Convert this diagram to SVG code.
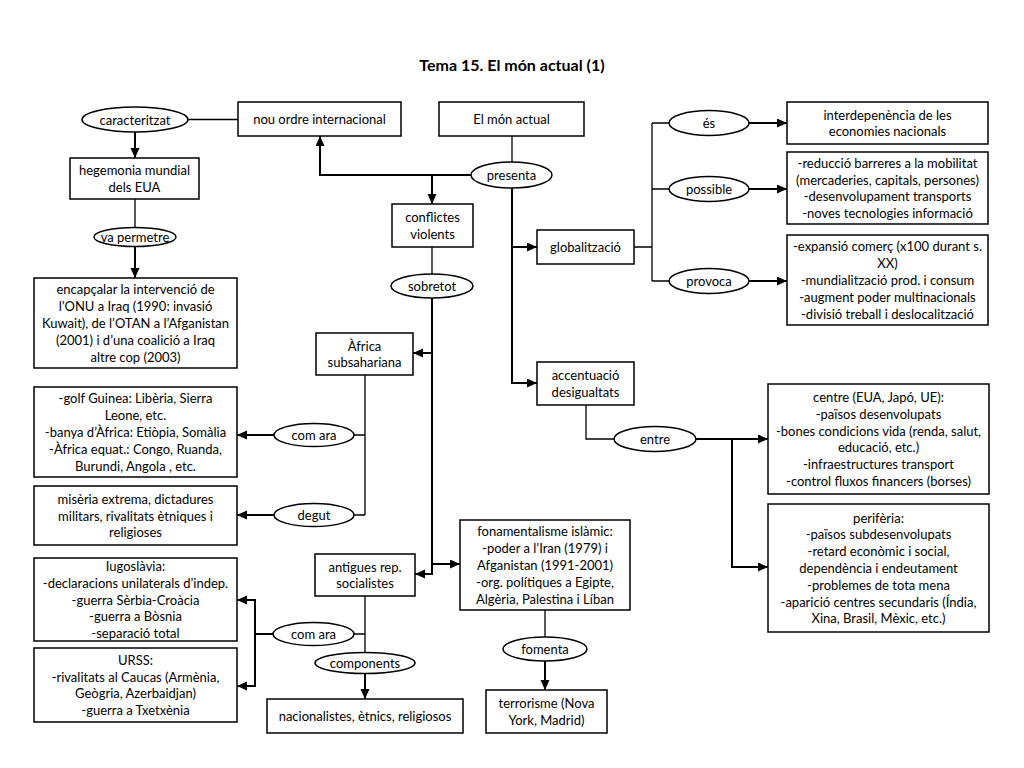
<svg xmlns="http://www.w3.org/2000/svg" width="1024" height="768" viewBox="0 0 1024 768">
<style>
  .box { fill: #ffffff; stroke: #000000; stroke-width: 1.5; }
  .ell { fill: #ffffff; stroke: #000000; stroke-width: 1.5; }
  .t { font-family: Lato, "Open Sans", sans-serif; font-size: 13px; fill: #000000; text-anchor: middle; }
  .title { font-family: Lato, "Open Sans", sans-serif; font-size: 16px; font-weight: bold; fill: #000000; text-anchor: middle; }
  .thin { fill: none; stroke: #000000; stroke-width: 1.3; }
  .thick { fill: none; stroke: #000000; stroke-width: 2; }
  .arr { fill: none; stroke: #000000; stroke-width: 2; marker-end: url(#ah); }
</style>
<defs>
  <marker id="ah" markerUnits="userSpaceOnUse" markerWidth="11" markerHeight="10" refX="10" refY="4.5" orient="auto">
    <path d="M0,0 L10,4.5 L0,9 z" fill="#000000"/>
  </marker>
</defs>
<rect x="0" y="0" width="1024" height="768" fill="#ffffff"/>
<text class="title" x="512" y="71">Tema 15. El món actual (1)</text>

<g id="connectors">
  <path class="thin" d="M188,119.5 H238"/>
  <path class="thin" d="M135,199 V228"/>
  <path class="thin" d="M512,136 V162"/>
  <path class="thin" d="M432,247 V274"/>
  <path class="thin" d="M365,375 V515 M354,435 H365 M354,515 H365"/>
  <path class="thin" d="M365,596 V653 M354,634 H365"/>
  <path class="thin" d="M545,610 V637"/>
  <path class="thin" d="M586,405 V439 H614"/>
  <path class="thin" d="M634,247 H652 M652,123 V281 M652,123 H669 M652,189 H669 M652,281 H669"/>

  <path class="arr" d="M135,132 V158"/>
  <path class="arr" d="M135,246 V278"/>
  <path class="arr" d="M471,175 H320 V136"/>
  <path class="arr" d="M432,175 V204"/>
  <path class="arr" d="M512,188 V383 H537"/>
  <path class="arr" d="M512,247 H537"/>
  <path class="arr" d="M432,298 V574 H415"/>
  <path class="arr" d="M432,353 H413"/>
  <path class="arr" d="M432,564 H460"/>
  <path class="arr" d="M274,435 H237"/>
  <path class="arr" d="M274,515 H237"/>
  <path class="thick" d="M273,634 H255 M255,599 V687"/>
  <path class="arr" d="M255,600 H237"/>
  <path class="arr" d="M255,686 H237"/>
  <path class="arr" d="M365,673 V699"/>
  <path class="arr" d="M696,439 H768"/>
  <path class="arr" d="M732,439 V567 H768"/>
  <path class="arr" d="M749,123 H787"/>
  <path class="arr" d="M749,189 H787"/>
  <path class="arr" d="M749,281 H787"/>
  <path class="arr" d="M545,661 V690"/>
</g>

<g id="n-caracteritzat">
  <ellipse class="ell" cx="135" cy="119.5" rx="53" ry="12.5"/>
  <text class="t" x="135" y="124.5">caracteritzat</text>
</g>
<g id="n-nou-ordre">
  <rect class="box" x="238" y="102" width="163" height="34"/>
  <text class="t" x="319.5" y="124">nou ordre internacional</text>
</g>
<g id="n-mon-actual">
  <rect class="box" x="439" y="102" width="145" height="34"/>
  <text class="t" x="511.5" y="124">El món actual</text>
</g>
<g id="n-hegemonia">
  <rect class="box" x="70" y="158" width="129" height="41"/>
  <text class="t" x="134.5" y="175.1">hegemonia mundial<tspan x="134.5" dy="16.8">dels EUA</tspan></text>
</g>
<g id="n-va-permetre">
  <ellipse class="ell" cx="135" cy="237" rx="41" ry="9.5"/>
  <text class="t" x="135" y="242">va permetre</text>
</g>
<g id="n-encapcalar">
  <rect class="box" x="34" y="278" width="203" height="90"/>
  <text class="t" x="135.5" y="294.4">encapçalar la intervenció de<tspan x="135.5" dy="16.8">l’ONU a Iraq (1990: invasió</tspan><tspan x="135.5" dy="16.8">Kuwait), de l’OTAN a l’Afganistan</tspan><tspan x="135.5" dy="16.8">(2001) i d’una coalició a Iraq</tspan><tspan x="135.5" dy="16.8">altre cop (2003)</tspan></text>
</g>
<g id="n-presenta">
  <ellipse class="ell" cx="511.5" cy="175" rx="40.5" ry="13"/>
  <text class="t" x="511.5" y="180">presenta</text>
</g>
<g id="n-conflictes">
  <rect class="box" x="392" y="204" width="81" height="43"/>
  <text class="t" x="432.5" y="222.1">conflictes<tspan x="432.5" dy="16.8">violents</tspan></text>
</g>
<g id="n-sobretot">
  <ellipse class="ell" cx="432" cy="286" rx="41" ry="12"/>
  <text class="t" x="432" y="291">sobretot</text>
</g>
<g id="n-globalitzacio">
  <rect class="box" x="537" y="230" width="97" height="34"/>
  <text class="t" x="585.5" y="252">globalització</text>
</g>
<g id="n-accentuacio">
  <rect class="box" x="537" y="362" width="97" height="43"/>
  <text class="t" x="585.5" y="380.1">accentuació<tspan x="585.5" dy="16.8">desigualtats</tspan></text>
</g>
<g id="n-es">
  <ellipse class="ell" cx="709" cy="123" rx="40" ry="12.5"/>
  <text class="t" x="709" y="128">és</text>
</g>
<g id="n-possible">
  <ellipse class="ell" cx="709" cy="189" rx="40" ry="12.5"/>
  <text class="t" x="709" y="194">possible</text>
</g>
<g id="n-provoca">
  <ellipse class="ell" cx="709" cy="281" rx="40" ry="12.5"/>
  <text class="t" x="709" y="286">provoca</text>
</g>
<g id="n-interdependencia">
  <rect class="box" x="787" y="102" width="201" height="42"/>
  <text class="t" x="887.5" y="119.6">interdepenència de les<tspan x="887.5" dy="16.8">economies nacionals</tspan></text>
</g>
<g id="n-reduccio">
  <rect class="box" x="787" y="152" width="201" height="72"/>
  <text class="t" x="887.5" y="167.8">-reducció barreres a la mobilitat<tspan x="887.5" dy="16.8">(mercaderies, capitals, persones)</tspan><tspan x="887.5" dy="16.8">-desenvolupament transports</tspan><tspan x="887.5" dy="16.8">-noves tecnologies informació</tspan></text>
</g>
<g id="n-expansio">
  <rect class="box" x="787" y="235" width="201" height="90"/>
  <text class="t" x="887.5" y="251.4">-expansió comerç (x100 durant s.<tspan x="887.5" dy="16.8">XX)</tspan><tspan x="887.5" dy="16.8">-mundialització prod. i consum</tspan><tspan x="887.5" dy="16.8">-augment poder multinacionals</tspan><tspan x="887.5" dy="16.8">-divisió treball i deslocalització</tspan></text>
</g>
<g id="n-africa">
  <rect class="box" x="316" y="333" width="97" height="42"/>
  <text class="t" x="364.5" y="350.6">Àfrica<tspan x="364.5" dy="16.8">subsahariana</tspan></text>
</g>
<g id="n-golf">
  <rect class="box" x="34" y="387" width="203" height="90"/>
  <text class="t" x="135.5" y="403.4">-golf Guinea: Libèria, Sierra<tspan x="135.5" dy="16.8">Leone, etc.</tspan><tspan x="135.5" dy="16.8">-banya d’Àfrica: Etiòpia, Somàlia</tspan><tspan x="135.5" dy="16.8">-Àfrica equat.: Congo, Ruanda,</tspan><tspan x="135.5" dy="16.8">Burundi, Angola , etc.</tspan></text>
</g>
<g id="n-com-ara-1">
  <ellipse class="ell" cx="314" cy="435" rx="40" ry="11.5"/>
  <text class="t" x="314" y="440">com ara</text>
</g>
<g id="n-miseria">
  <rect class="box" x="34" y="486" width="203" height="59"/>
  <text class="t" x="135.5" y="503.7">misèria extrema, dictadures<tspan x="135.5" dy="16.8">militars, rivalitats ètniques i</tspan><tspan x="135.5" dy="16.8">religioses</tspan></text>
</g>
<g id="n-degut">
  <ellipse class="ell" cx="314" cy="515" rx="40" ry="11.5"/>
  <text class="t" x="314" y="520">degut</text>
</g>
<g id="n-entre">
  <ellipse class="ell" cx="655" cy="439" rx="41" ry="12.5"/>
  <text class="t" x="655" y="444">entre</text>
</g>
<g id="n-centre">
  <rect class="box" x="768" y="384" width="221" height="110"/>
  <text class="t" x="878.5" y="402">centre (EUA, Japó, UE):<tspan x="878.5" dy="16.8">-països desenvolupats</tspan><tspan x="878.5" dy="16.8">-bones condicions vida (renda, salut,</tspan><tspan x="878.5" dy="16.8">educació, etc.)</tspan><tspan x="878.5" dy="16.8">-infraestructures transport</tspan><tspan x="878.5" dy="16.8">-control fluxos financers (borses)</tspan></text>
</g>
<g id="n-periferia">
  <rect class="box" x="768" y="504" width="221" height="128"/>
  <text class="t" x="878.5" y="522.6">perifèria:<tspan x="878.5" dy="16.8">-països subdesenvolupats</tspan><tspan x="878.5" dy="16.8">-retard econòmic i social,</tspan><tspan x="878.5" dy="16.8">dependència i endeutament</tspan><tspan x="878.5" dy="16.8">-problemes de tota mena</tspan><tspan x="878.5" dy="16.8">-aparició centres secundaris (Índia,</tspan><tspan x="878.5" dy="16.8">Xina, Brasil, Mèxic, etc.)</tspan></text>
</g>
<g id="n-fonamentalisme">
  <rect class="box" x="460" y="520" width="170" height="90"/>
  <text class="t" x="545" y="536.4">fonamentalisme islàmic:<tspan x="545" dy="16.8">-poder a l’Iran (1979) i</tspan><tspan x="545" dy="16.8">Afganistan (1991-2001)</tspan><tspan x="545" dy="16.8">-org. polítiques a Egipte,</tspan><tspan x="545" dy="16.8">Algèria, Palestina i Líban</tspan></text>
</g>
<g id="n-iugoslavia">
  <rect class="box" x="34" y="558" width="203" height="83"/>
  <text class="t" x="135.5" y="570.9">Iugoslàvia:<tspan x="135.5" dy="16.8">-declaracions unilaterals d’indep.</tspan><tspan x="135.5" dy="16.8">-guerra Sèrbia-Croàcia</tspan><tspan x="135.5" dy="16.8">-guerra a Bòsnia</tspan><tspan x="135.5" dy="16.8">-separació total</tspan></text>
</g>
<g id="n-antigues">
  <rect class="box" x="315" y="554" width="100" height="42"/>
  <text class="t" x="365" y="571.6">antigues rep.<tspan x="365" dy="16.8">socialistes</tspan></text>
</g>
<g id="n-com-ara-2">
  <ellipse class="ell" cx="313.5" cy="634" rx="40.5" ry="11.5"/>
  <text class="t" x="313.5" y="639">com ara</text>
</g>
<g id="n-urss">
  <rect class="box" x="34" y="648" width="203" height="74"/>
  <text class="t" x="135.5" y="664.8">URSS:<tspan x="135.5" dy="16.8">-rivalitats al Caucas (Armènia,</tspan><tspan x="135.5" dy="16.8">Geògria, Azerbaidjan)</tspan><tspan x="135.5" dy="16.8">-guerra a Txetxènia</tspan></text>
</g>
<g id="n-components">
  <ellipse class="ell" cx="365" cy="663" rx="50" ry="10.5"/>
  <text class="t" x="365" y="668">components</text>
</g>
<g id="n-nacionalistes">
  <rect class="box" x="267" y="699" width="196" height="34"/>
  <text class="t" x="365" y="721">nacionalistes, ètnics, religiosos</text>
</g>
<g id="n-fomenta">
  <ellipse class="ell" cx="545" cy="649" rx="42" ry="12"/>
  <text class="t" x="545" y="654">fomenta</text>
</g>
<g id="n-terrorisme">
  <rect class="box" x="486" y="690" width="121" height="43"/>
  <text class="t" x="546.5" y="708.1">terrorisme (Nova<tspan x="546.5" dy="16.8">York, Madrid)</tspan></text>
</g>
</svg>
